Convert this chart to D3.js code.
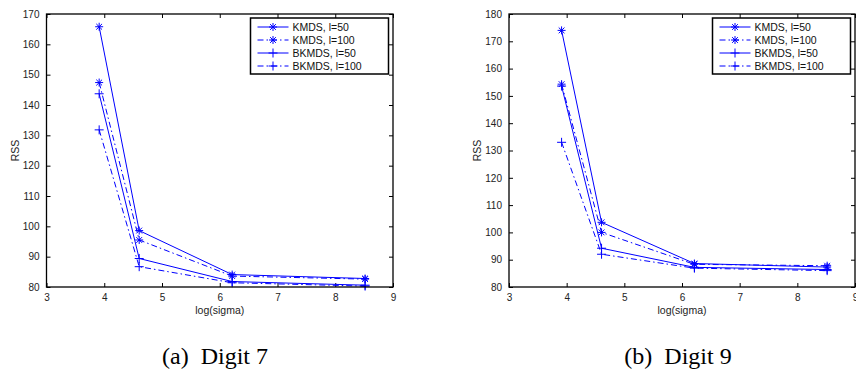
<!DOCTYPE html>
<html><head><meta charset="utf-8">
<script src="https://cdn.jsdelivr.net/npm/d3@7"></script>
<style>
html,body{margin:0;padding:0;background:#fff;}
svg{display:block;}
</style></head>
<body>
<svg id="c" width="856" height="369"></svg>
<script>
// ---- data ----
const xValues = [3.912, 4.605, 6.215, 8.517];
const seriesNames = ["KMDS, l=50", "KMDS, l=100", "BKMDS, l=50", "BKMDS, l=100"];
const seriesMarkers = ["star", "star", "plus", "plus"];
const seriesDash = ["solid", "dashdot", "solid", "dashdot"];

const digit7_KMDS_50   = [165.8, 98.6, 84.1, 82.8];
const digit7_KMDS_100  = [147.4, 95.5, 83.6, 82.6];
const digit7_BKMDS_50  = [143.7, 89.4, 81.8, 80.6];
const digit7_BKMDS_100 = [131.8, 86.7, 81.4, 80.3];

const digit9_KMDS_50   = [174.0, 103.7, 88.6, 87.3];
const digit9_KMDS_100  = [154.3, 100.0, 88.3, 87.8];
const digit9_BKMDS_50  = [153.6, 94.2, 87.2, 86.4];
const digit9_BKMDS_100 = [133.0, 92.0, 86.9, 86.0];

const xTicks = [3, 4, 5, 6, 7, 8, 9];
const yTicks7 = [80, 90, 100, 110, 120, 130, 140, 150, 160, 170];
const yTicks9 = [80, 90, 100, 110, 120, 130, 140, 150, 160, 170, 180];
const captions = ["(a)  Digit 7", "(b)  Digit 9"];
const xLabel = "log(sigma)";
const yLabel = "RSS";

// ---- drawing ----
const svg = d3.select("#c");
const BLUE = "#0000ff";
const FONT = "'Liberation Sans', Arial, Helvetica, sans-serif";

function markerPath(type, s) {
  if (type === "plus") {
    return `M${-s},0L${s},0M0,${-s}L0,${s}`;
  }
  const d = s * 0.72;
  return `M${-s},0L${s},0M0,${-s}L0,${s}M${-d},${-d}L${d},${d}M${-d},${d}L${d},${-d}`;
}

function panel(opts) {
  const g = svg.append("g");
  const x = d3.scaleLinear().domain([3, 9]).range([opts.left, opts.right]);
  const y = d3.scaleLinear().domain([80, opts.yMax]).range([opts.bottom, opts.top]);
  const W = opts.right - opts.left, H = opts.bottom - opts.top;

  // axes with inward ticks
  const ax = g.append("g").attr("font-family", FONT).attr("font-size", "10.5px");
  const bottomAxis = d3.axisBottom(x).tickValues(xTicks).tickSize(-4).tickPadding(8).tickFormat(d3.format("d"));
  const topAxis = d3.axisTop(x).tickValues(xTicks).tickSize(-4).tickFormat("");
  const leftAxis = d3.axisLeft(y).tickValues(opts.yTicks).tickSize(-4).tickPadding(7).tickFormat(d3.format("d"));
  const rightAxis = d3.axisRight(y).tickValues(opts.yTicks).tickSize(-4).tickFormat("");

  const gb = ax.append("g").attr("transform", `translate(0,${opts.bottom})`).call(bottomAxis);
  const gt = ax.append("g").attr("transform", `translate(0,${opts.top})`).call(topAxis);
  const gl = ax.append("g").attr("transform", `translate(${opts.left},0)`).call(leftAxis);
  const gr = ax.append("g").attr("transform", `translate(${opts.right},0)`).call(rightAxis);
  [gb, gt, gl, gr].forEach(a => {
    a.select(".domain").remove();
    a.selectAll(".tick line").attr("stroke", "#000").attr("stroke-width", 1);
    a.selectAll(".tick text").attr("fill", "#222").attr("font-family", FONT);
  });
  gb.selectAll(".tick text").attr("dy", "0.55em");

  // data lines
  const line = d3.line().x((d, i) => x(xValues[i])).y(d => y(d));
  opts.series.forEach((vals, si) => {
    g.append("path").datum(vals).attr("d", line)
      .attr("fill", "none").attr("stroke", BLUE).attr("stroke-width", 1)
      .attr("stroke-dasharray", seriesDash[si] === "dashdot" ? "6,3,1.5,3" : null);
    g.selectAll(null).data(vals).enter().append("path")
      .attr("transform", (d, i) => `translate(${x(xValues[i])},${y(d)})`)
      .attr("d", markerPath(seriesMarkers[si], seriesMarkers[si] === "plus" ? 4.5 : 4))
      .attr("fill", "none").attr("stroke", BLUE).attr("stroke-width", 1);
  });

  // frame
  g.append("rect").attr("x", opts.left).attr("y", opts.top).attr("width", W).attr("height", H)
    .attr("fill", "none").attr("stroke", "#000").attr("stroke-width", 1.3);

  // legend
  const lw = 138, lh = 56;
  const lx = opts.right - 4.5 - lw, ly = opts.top + 4;
  const leg = g.append("g");
  leg.append("rect").attr("x", lx).attr("y", ly).attr("width", lw).attr("height", lh)
    .attr("fill", "#fff").attr("stroke", "#000").attr("stroke-width", 1.5);
  seriesNames.forEach((name, si) => {
    const yy = ly + 9 + si * 13;
    leg.append("line").attr("x1", lx + 7).attr("x2", lx + 38).attr("y1", yy).attr("y2", yy)
      .attr("stroke", BLUE).attr("stroke-width", 1)
      .attr("stroke-dasharray", seriesDash[si] === "dashdot" ? "6,3,1.5,3" : null);
    leg.append("path").attr("transform", `translate(${lx + 22.5},${yy})`)
      .attr("d", markerPath(seriesMarkers[si], seriesMarkers[si] === "plus" ? 4.5 : 4))
      .attr("fill", "none").attr("stroke", BLUE).attr("stroke-width", 1);
    leg.append("text").attr("x", lx + 42).attr("y", yy).attr("dy", "0.36em")
      .attr("font-family", FONT).attr("font-size", "10.5px").attr("fill", "#111").text(name);
  });

  // axis labels
  g.append("text").attr("x", (opts.left + opts.right) / 2).attr("y", opts.bottom + 27)
    .attr("text-anchor", "middle").attr("font-family", FONT).attr("font-size", "10.5px")
    .attr("fill", "#222").text(xLabel);
  g.append("text").attr("transform", `translate(${opts.left - 28},${(opts.top + opts.bottom) / 2}) rotate(-90)`)
    .attr("text-anchor", "middle").attr("font-family", FONT).attr("font-size", "10.5px")
    .attr("fill", "#222").text(yLabel);

  // caption
  g.append("text").attr("x", opts.capX).attr("y", 364)
    .attr("text-anchor", "middle").attr("font-family", "'Liberation Serif', 'Times New Roman', serif")
    .attr("font-size", "24px").attr("fill", "#000").attr("xml:space", "preserve")
    .style("white-space", "pre").text(opts.caption);
}

panel({
  left: 46.5, right: 393, top: 14, bottom: 287, yMax: 170, yTicks: yTicks7,
  series: [digit7_KMDS_50, digit7_KMDS_100, digit7_BKMDS_50, digit7_BKMDS_100],
  caption: captions[0], capX: 215
});
panel({
  left: 509, right: 855, top: 14, bottom: 287, yMax: 180, yTicks: yTicks9,
  series: [digit9_KMDS_50, digit9_KMDS_100, digit9_BKMDS_50, digit9_BKMDS_100],
  caption: captions[1], capX: 678
});
</script>
</body></html>
